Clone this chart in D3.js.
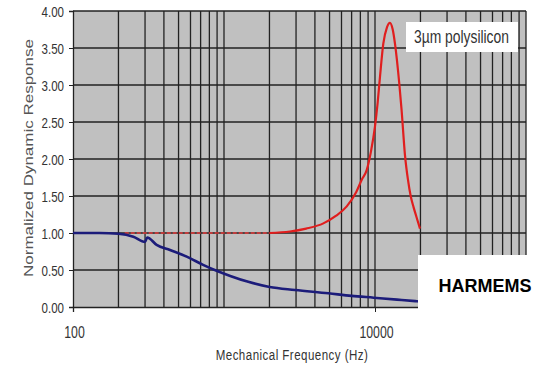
<!DOCTYPE html>
<html>
<head>
<meta charset="utf-8">
<script src="https://cdn.jsdelivr.net/npm/d3@7"></script>
<style>
  body { margin: 0; background: #fff; }
  text { font-family: "Liberation Sans", Arial, sans-serif; }
</style>
</head>
<body>
<svg id="chart" width="539" height="366"></svg>
<script>
// response of the polysilicon structure (red) and the HARMEMS one (blue)
var redFreq = [220, 400, 700, 1000, 1500, 2000, 2735, 3500, 4550, 5500, 6500, 7500, 8170, 8810, 9400,
               10000, 10400, 10790, 11350, 12000, 12560, 13100, 13560, 14480, 15000, 15800, 16530,
               17230, 18000, 18800, 19860];
var redVal  = [1.00, 1.00, 1.00, 1.00, 1.00, 1.00, 1.02, 1.06, 1.13, 1.23, 1.36, 1.55, 1.72, 1.85, 2.10,
               2.44, 2.75, 3.11, 3.56, 3.78, 3.84, 3.75, 3.56, 3.02, 2.66, 2.05, 1.72,
               1.50, 1.35, 1.22, 1.06];

var blueFreq = [100, 150, 200, 251, 300, 310, 358, 439, 566, 727, 893, 1100, 1448, 2007, 2952,
                4910, 7000, 9800, 14000, 18500, 20000];
var blueVal  = [1.00, 1.00, 0.99, 0.95, 0.88, 0.94, 0.84, 0.77, 0.68, 0.57, 0.49, 0.42, 0.34, 0.27, 0.23,
                0.185, 0.15, 0.126, 0.10, 0.08, 0.075];

var yTicks = [0, 0.5, 1, 1.5, 2, 2.5, 3, 3.5, 4];
var xLabels = [100, 10000];

var svg = d3.select("#chart");
var plotL = 73, plotR = 526, plotT = 11, plotB = 307;
var squeeze = 0.77; // the original picture is a bit narrowed

var x = d3.scaleLog().domain([100, 100000]).range([plotL, plotR]);
var y = d3.scaleLinear().domain([0, 4]).range([plotB, plotT]);

svg.append("rect")
    .attr("x", plotL).attr("y", plotT)
    .attr("width", plotR - plotL).attr("height", plotB - plotT)
    .attr("fill", "#c0c0c0");

// grid: every 1..9 of each decade
var xGrid = [];
[100, 1000, 10000].forEach(function(d) {
    for (var k = 1; k < 10; k++) xGrid.push(d * k);
});
xGrid.push(100000);

svg.append("g").selectAll("line").data(xGrid.slice(1)).join("line")
    .attr("x1", d => x(d)).attr("x2", d => x(d))
    .attr("y1", plotT).attr("y2", plotB)
    .attr("stroke", "#222").attr("stroke-width", 1.3);

svg.append("g").selectAll("line").data(yTicks.slice(1)).join("line")
    .attr("x1", plotL).attr("x2", plotR)
    .attr("y1", d => y(d)).attr("y2", d => y(d))
    .attr("stroke", "#222").attr("stroke-width", 1.3);

// axes
var yAxis = svg.append("g")
    .attr("transform", "translate(" + plotL + ",0)")
    .call(d3.axisLeft(y).tickValues(yTicks).tickSize(4).tickFormat(d3.format(".2f")));
yAxis.select(".domain").attr("stroke", "#222").attr("stroke-width", 1.3);
yAxis.selectAll(".tick line").attr("stroke", "#222");
yAxis.selectAll(".tick text").remove();
yAxis.selectAll(".tick").append("text")
    .attr("transform", "translate(-9,5.5) scale(" + squeeze + ",1)")
    .attr("text-anchor", "end")
    .attr("fill", "#333")
    .style("font-size", "15px")
    .text(d => d3.format(".2f")(d));

var xAxis = svg.append("g")
    .attr("transform", "translate(0," + plotB + ")")
    .call(d3.axisBottom(x).tickValues(xLabels).tickSize(5).tickFormat(""));
xAxis.select(".domain").attr("stroke", "#222").attr("stroke-width", 1.3);
xAxis.selectAll(".tick line").attr("stroke", "#222");
xAxis.selectAll(".tick").append("text")
    .attr("transform", "translate(1,31) scale(" + squeeze + ",1)")
    .attr("text-anchor", "middle")
    .attr("fill", "#333")
    .style("font-size", "16px")
    .text(d => d);

// curves
var line = d3.line()
    .x(d => x(d[0])).y(d => y(d[1]))
    .curve(d3.curveMonotoneX);

var red = redFreq.map((f, i) => [f, redVal[i]]);
var blue = blueFreq.map((f, i) => [f, blueVal[i]]);

svg.append("path")
    .attr("d", line(red.filter(d => d[0] <= 2000)))
    .attr("fill", "none").attr("stroke", "#e83a3a")
    .attr("stroke-width", 1.6).attr("stroke-dasharray", "4,2");

svg.append("path")
    .attr("d", line(red.filter(d => d[0] >= 2000)))
    .attr("fill", "none").attr("stroke", "#e01e1e")
    .attr("stroke-width", 2.2);

svg.append("path")
    .attr("d", line(blue))
    .attr("fill", "none").attr("stroke", "#1c1c7a")
    .attr("stroke-width", 2.6);

// legend box
svg.append("rect")
    .attr("x", 406).attr("y", 22).attr("width", 112).attr("height", 30)
    .attr("fill", "#fff");
svg.append("text")
    .attr("transform", "translate(414,43) scale(" + squeeze + ",1)")
    .attr("fill", "#333")
    .style("font-size", "18px")
    .text("3µm polysilicon");

// axis titles
svg.append("text")
    .attr("transform", "translate(292,360) scale(" + squeeze + ",1)")
    .attr("text-anchor", "middle")
    .attr("fill", "#333")
    .style("font-size", "15px")
    .style("letter-spacing", "0.6px")
    .text("Mechanical Frequency (Hz)");

svg.append("text")
    .attr("transform", "translate(33,158) rotate(-90) scale(1," + squeeze + ")")
    .attr("text-anchor", "middle")
    .attr("fill", "#555")
    .style("font-size", "17px")
    .text("Normalized Dynamic Response");

// HARMEMS label pasted over the lower right
svg.append("rect")
    .attr("x", 418).attr("y", 255).attr("width", 121).attr("height", 111)
    .attr("fill", "#fff");
svg.append("text")
    .attr("x", 485).attr("y", 292)
    .attr("text-anchor", "middle")
    .attr("fill", "#000")
    .style("font-size", "18px")
    .style("font-weight", "bold")
    .text("HARMEMS");
</script>
</body>
</html>
